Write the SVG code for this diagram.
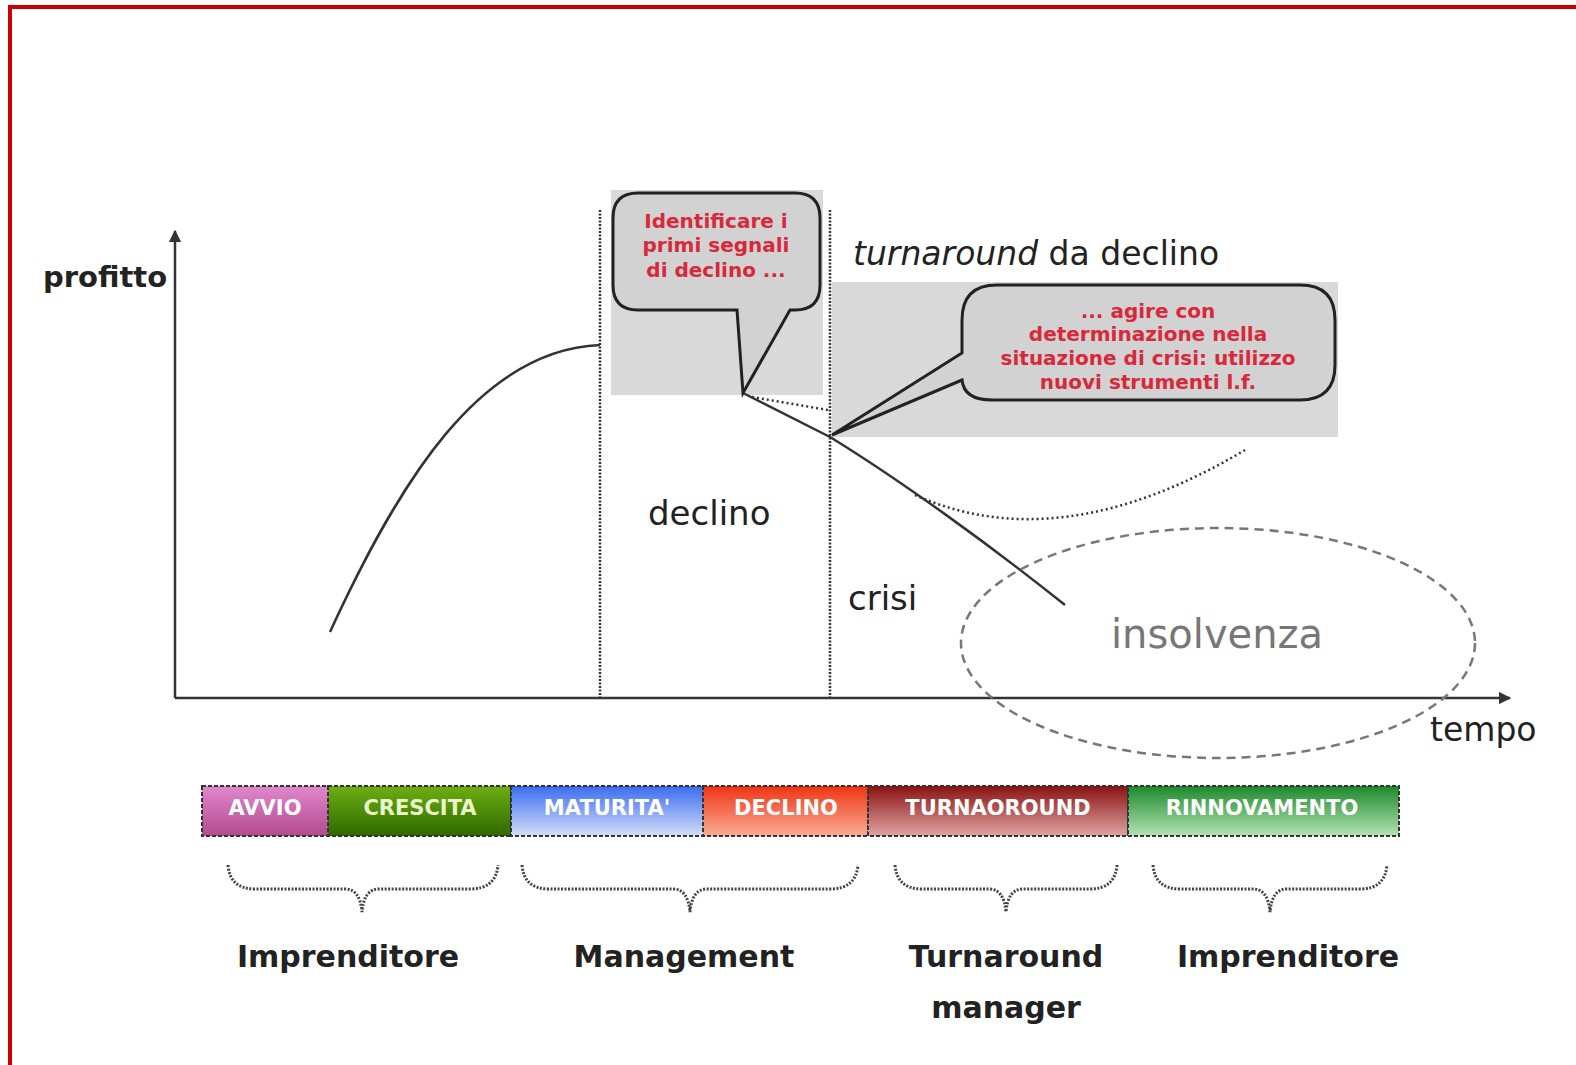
<svg xmlns="http://www.w3.org/2000/svg" width="1576" height="1065" viewBox="0 0 1576 1065">
<style>
.ax{stroke:#333;stroke-width:2.5;fill:none}
.vd{stroke:#333;stroke-width:2.5;stroke-dasharray:2,1.5;fill:none}
.dot{stroke:#333;stroke-width:2.5;stroke-dasharray:2,3;fill:none}
.br{stroke:#444;stroke-width:3;stroke-dasharray:2,1.5;fill:none}
.gray{fill:#d9d9d9}
.call{fill:#d2d2d2;stroke:#222;stroke-width:3}
.ct{font-family:"DejaVu Sans",sans-serif;font-weight:bold;font-size:20px;fill:#d8283a;text-anchor:middle}
.t{font-family:"DejaVu Sans",sans-serif;font-size:34px;fill:#222}
.lb{font-family:"DejaVu Sans",sans-serif;font-weight:bold;font-size:30px;fill:#222;text-anchor:middle}
.seg{stroke:#333;stroke-width:2;stroke-dasharray:4,2}
.bt{font-family:"DejaVu Sans",sans-serif;font-weight:bold;font-size:21px;fill:#fff;text-anchor:middle}
</style>
<defs>
<marker id="ah" viewBox="0 0 10 10" refX="9" refY="5" markerWidth="5" markerHeight="5" orient="auto"><path d="M0,0 L10,5 L0,10 Z" fill="#333"/></marker>
<linearGradient id="gA" x1="0" y1="0" x2="0" y2="1"><stop offset="0" stop-color="#e088cc"/><stop offset="1" stop-color="#b44a90"/></linearGradient>
<linearGradient id="gC" x1="0" y1="0" x2="0" y2="1"><stop offset="0" stop-color="#6eae12"/><stop offset="1" stop-color="#2f6800"/></linearGradient>
<linearGradient id="gM" x1="0" y1="0" x2="0" y2="1"><stop offset="0" stop-color="#3a6cf0"/><stop offset="1" stop-color="#d4def8"/></linearGradient>
<linearGradient id="gD" x1="0" y1="0" x2="0" y2="1"><stop offset="0" stop-color="#f03414"/><stop offset="1" stop-color="#f8ac94"/></linearGradient>
<linearGradient id="gT" x1="0" y1="0" x2="0" y2="1"><stop offset="0" stop-color="#8a1212"/><stop offset="1" stop-color="#e0a4a4"/></linearGradient>
<linearGradient id="gR" x1="0" y1="0" x2="0" y2="1"><stop offset="0" stop-color="#1c8a2a"/><stop offset="1" stop-color="#b4e2b4"/></linearGradient>
</defs>
<rect width="1576" height="1065" fill="#fff"/>
<path d="M10,1065 V7 H1576" fill="none" stroke="#cc0000" stroke-width="4"/>

<g id="phase-lines">
<line class="vd" x1="600" y1="210" x2="600" y2="698"/>
<line class="vd" x1="830" y1="210" x2="830" y2="698"/>
</g>

<g id="highlight-boxes">
<rect class="gray" x="611" y="190" width="212" height="205"/>
<rect class="gray" x="832" y="282" width="506" height="155"/>
</g>

<g id="axes">
<line class="ax" x1="175" y1="698" x2="175" y2="231" marker-end="url(#ah)"/>
<line class="ax" x1="175" y1="698" x2="1510" y2="698" marker-end="url(#ah)"/>
<text class="t" x="43" y="287" style="font-weight:bold;font-size:29px">profitto</text>
<text class="t" x="1430" y="741" style="font-size:33px">tempo</text>
</g>

<g id="connectors">
<path class="ax" d="M330,632 C400,480 480,350 600,345"/>
<path class="ax" d="M743,393 L830,437 C900,480 990,545 1065,605"/>
<path class="dot" d="M752,397 L828,410"/>
<path class="dot" d="M915,495 Q1060,560 1245,450"/>
</g>

<g id="callout-1">
<path class="call" d="M638,193 H795 Q820,193 820,218 V285 Q820,310 795,310 H790 L743,393 L737,310 H638 Q613,310 613,285 V218 Q613,193 638,193 Z"/>
<text class="ct" x="716" y="228">Identificare i</text>
<text class="ct" x="716" y="252">primi segnali</text>
<text class="ct" x="716" y="277">di declino ...</text>
</g>

<g id="callout-2">
<path class="call" d="M997,285 H1300 Q1335,285 1335,320 V365 Q1335,400 1300,400 H992 Q964,400 962,380 L832,435 L962,353 V320 Q962,285 997,285 Z"/>
<text class="ct" x="1148" y="318">... agire con</text>
<text class="ct" x="1148" y="341">determinazione nella</text>
<text class="ct" x="1148" y="365">situazione di crisi: utilizzo</text>
<text class="ct" x="1148" y="389">nuovi strumenti l.f.</text>
</g>

<g id="labels">
<text class="t" x="853" y="265" style="font-size:33px"><tspan font-style="italic">turnaround</tspan> da declino</text>
<text class="t" x="648" y="525">declino</text>
<text class="t" x="848" y="610">crisi</text>
</g>

<g id="insolvenza">
<ellipse cx="1218" cy="643" rx="257" ry="115" fill="none" stroke="#777" stroke-width="2.5" stroke-dasharray="9,6"/>
<text x="1217" y="648" style="font-family:'DejaVu Sans',sans-serif;font-size:40px;fill:#777;text-anchor:middle">insolvenza</text>
</g>

<g id="phase-bar">
<rect class="seg" x="202" y="786" width="126" height="50" fill="url(#gA)"/>
<rect class="seg" x="328" y="786" width="183" height="50" fill="url(#gC)"/>
<rect class="seg" x="511" y="786" width="192" height="50" fill="url(#gM)"/>
<rect class="seg" x="703" y="786" width="165" height="50" fill="url(#gD)"/>
<rect class="seg" x="868" y="786" width="260" height="50" fill="url(#gT)"/>
<rect class="seg" x="1128" y="786" width="271" height="50" fill="url(#gR)"/>
<text class="bt" x="265" y="815">AVVIO</text>
<text class="bt" x="420" y="815" style="fill:#eaf8c8">CRESCITA</text>
<text class="bt" x="607" y="815">MATURITA'</text>
<text class="bt" x="786" y="815">DECLINO</text>
<text class="bt" x="998" y="815">TURNAOROUND</text>
<text class="bt" x="1262" y="815">RINNOVAMENTO</text>
</g>

<g id="braces">
<path class="br" d="M228,865 Q230,889 255,889 H345 Q360,889 362,912 Q364,889 379,889 H470 Q496,889 498,865"/>
<path class="br" d="M522,865 Q524,889 549,889 H673 Q688,889 690,912 Q692,889 707,889 H830 Q856,889 858,865"/>
<path class="br" d="M895,865 Q897,889 922,889 H989 Q1004,889 1006,912 Q1008,889 1023,889 H1090 Q1115,889 1117,865"/>
<path class="br" d="M1153,865 Q1155,889 1180,889 H1253 Q1268,889 1270,912 Q1272,889 1287,889 H1360 Q1385,889 1387,865"/>
</g>

<g id="roles">
<text class="lb" x="348" y="967">Imprenditore</text>
<text class="lb" x="684" y="967">Management</text>
<text class="lb" x="1006" y="967">Turnaround</text>
<text class="lb" x="1006" y="1018">manager</text>
<text class="lb" x="1288" y="967">Imprenditore</text>
</g>
</svg>
